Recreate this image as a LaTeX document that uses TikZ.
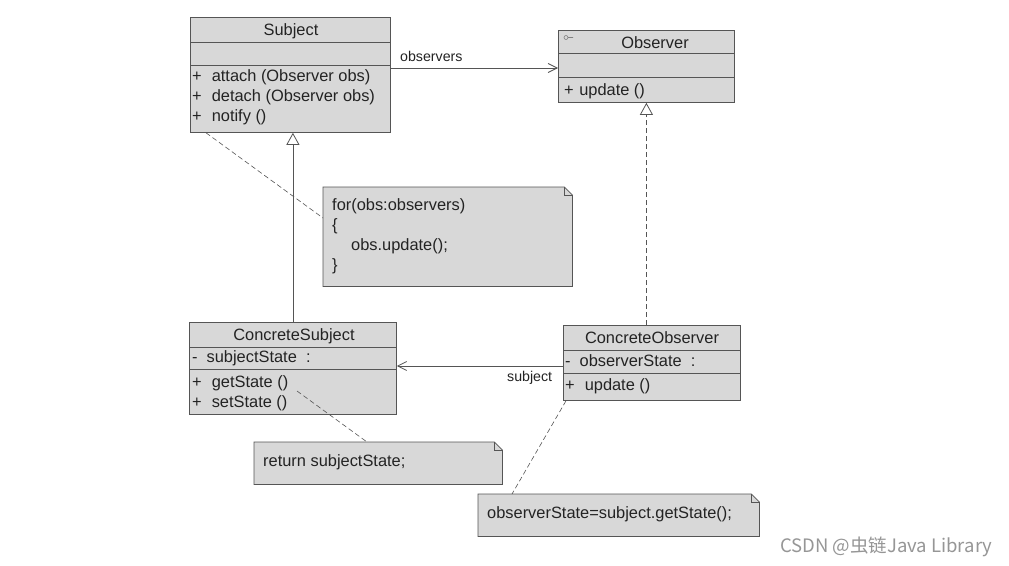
\documentclass[tikz,border=0pt]{standalone}
\usepackage{fontspec}
\setmainfont{Liberation Sans}
\newfontfamily\cjk{Noto Sans CJK SC}
\usetikzlibrary{arrows.meta,calc}
\definecolor{boxc}{RGB}{216,216,216}
\definecolor{linec}{RGB}{85,85,85}
\definecolor{txtc}{RGB}{35,35,35}
\definecolor{wmc}{RGB}{150,150,150}
\begin{document}
\begin{tikzpicture}[x=1pt,y=-1pt,
  cls/.style={draw=linec, fill=boxc, line width=0.8pt, inner sep=0pt, anchor=north west},
  sep/.style={draw=linec, line width=0.8pt},
  txt/.style={anchor=base west, inner sep=0pt, text=txtc, font=\fontsize{16.4}{20}\selectfont},
  lbl/.style={anchor=base west, inner sep=0pt, text=txtc, font=\fontsize{14.2}{17}\selectfont},
  ttl/.style={anchor=base, inner sep=0pt, text=txtc, font=\fontsize{16.4}{20}\selectfont},
  notebox/.style={draw=none, fill=none, inner sep=0pt, anchor=north west},
  noteline/.style={draw=linec, fill=boxc, line width=0.8pt, line join=miter},
  assoc/.style={draw=linec, line width=0.8pt, -{Straight Barb[length=9pt,width=9pt]}},
  gen/.style={draw=linec, line width=0.8pt, -{Triangle[open,length=12pt,width=13pt,fill=white]}},
  real/.style={gen, dash pattern=on 5pt off 3pt},
  attach/.style={draw=linec, line width=0.6pt, dash pattern=on 5pt off 3pt},
]
\fill[white] (0,0) rectangle (1009,565);
\useasboundingbox (0,0) rectangle (1009,565);

% ---------- Subject ----------
\node[cls, minimum width=200pt, minimum height=115pt] (subj) at (190,17) {};
\draw[sep] ($(subj.north west)+(0,25)$) -- ($(subj.north east)+(0,25)$);
\draw[sep] ($(subj.north west)+(0,48)$) -- ($(subj.north east)+(0,48)$);
\node[ttl] (subjT) at (291,35.5) {Subject};
\node[txt] (subjM1) at (192,81) {+\hspace{10pt}attach (Observer obs)};
\node[txt] (subjM2) at (192,101) {+\hspace{10pt}detach (Observer obs)};
\node[txt] (subjM3) at (192,121) {+\hspace{10pt}notify ()};

% ---------- Observer ----------
\node[cls, minimum width=176pt, minimum height=72pt] (obs) at (558,30) {};
\draw[sep] ($(obs.north west)+(0,23.5)$) -- ($(obs.north east)+(0,23.5)$);
\draw[sep] ($(obs.north west)+(0,47)$) -- ($(obs.north east)+(0,47)$);
\draw[gray, line width=0.6pt] (566,37.5) circle (2pt) (568,37.5) -- (573,37.5);
\node[ttl] (obsT) at (655,48) {Observer};
\node[txt] (obsM1) at (564,95) {+\hspace{5.5pt}update ()};

% ---------- ConcreteSubject ----------
\node[cls, minimum width=207pt, minimum height=92pt] (csubj) at (189,322) {};
\draw[sep] ($(csubj.north west)+(0,25)$) -- ($(csubj.north east)+(0,25)$);
\draw[sep] ($(csubj.north west)+(0,47)$) -- ($(csubj.north east)+(0,47)$);
\node[ttl] (csubjT) at (294,340) {ConcreteSubject};
\node[txt] (csubjA1) at (192,362) {-\hspace{9pt}subjectState\ \ :};
\node[txt] (csubjM1) at (192,387) {+\hspace{10pt}getState ()};
\node[txt] (csubjM2) at (192,407) {+\hspace{10pt}setState ()};

% ---------- ConcreteObserver ----------
\node[cls, minimum width=177pt, minimum height=75pt] (cobs) at (563,325) {};
\draw[sep] ($(cobs.north west)+(0,25)$) -- ($(cobs.north east)+(0,25)$);
\draw[sep] ($(cobs.north west)+(0,48)$) -- ($(cobs.north east)+(0,48)$);
\node[ttl] (cobsT) at (652,343) {ConcreteObserver};
\node[txt] (cobsA1) at (565,366) {-\hspace{9pt}observerState\ \ :};
\node[txt] (cobsM1) at (565,390) {+\hspace{10pt}update ()};

% ---------- Notes ----------
\node[notebox, minimum width=249pt, minimum height=99pt] (n1) at (323,187) {};
\filldraw[noteline] (n1.north west) -- ($(n1.north east)+(-8,0)$) -- ($(n1.north east)+(0,8)$) -- (n1.south east) -- (n1.south west) -- cycle;
\draw[noteline, fill=none] ($(n1.north east)+(-8,0)$) -- ($(n1.north east)+(-8,8)$) -- ($(n1.north east)+(0,8)$);
\node[txt] (n1L1) at (332,210) {for(obs:observers)};
\node[txt] (n1L2) at (332,230) {\{};
\node[txt] (n1L3) at (351,250) {obs.update();};
\node[txt] (n1L4) at (332,270) {\}};

\node[notebox, minimum width=248pt, minimum height=42pt] (n2) at (254,442) {};
\filldraw[noteline] (n2.north west) -- ($(n2.north east)+(-8,0)$) -- ($(n2.north east)+(0,8)$) -- (n2.south east) -- (n2.south west) -- cycle;
\draw[noteline, fill=none] ($(n2.north east)+(-8,0)$) -- ($(n2.north east)+(-8,8)$) -- ($(n2.north east)+(0,8)$);
\node[txt] (n2L1) at (263,466) {return subjectState;};

\node[notebox, minimum width=281pt, minimum height=42pt] (n3) at (478,494) {};
\filldraw[noteline] (n3.north west) -- ($(n3.north east)+(-8,0)$) -- ($(n3.north east)+(0,8)$) -- (n3.south east) -- (n3.south west) -- cycle;
\draw[noteline, fill=none] ($(n3.north east)+(-8,0)$) -- ($(n3.north east)+(-8,8)$) -- ($(n3.north east)+(0,8)$);
\node[txt] (n3L1) at (487,518) {observerState=subject.getState();};

% ---------- Connectors ----------
\draw[assoc] ($(subj.north east)+(0,51)$) -- ($(obs.north west)+(0,38)$);
\node[lbl] (lblObs) at (400,61) {observers};

\draw[gen] (csubj.north) -- (csubj.north |- subj.south);
\draw[real] (obs.south |- cobs.north) -- (obs.south);

\draw[assoc] ($(cobs.north west)+(0,41)$) -- ($(csubj.north east)+(0,44)$);
\node[lbl] (lblSubj) at (507,381) {subject};

\draw[attach] ($(subj.south west)+(16,0)$) -- ($(n1.north west)+(0,31)$);
\draw[attach] ($(csubj.north west)+(108,69)$) -- ($(n2.north west)+(113,0)$);
\draw[attach] ($(cobs.south west)+(3,0)$) -- ($(n3.north west)+(34,0)$);

% ---------- Watermark ----------
\node[anchor=base west, inner sep=0pt, text=wmc, font=\cjk\fontsize{18.5}{22}\selectfont] (wm) at (780,552) {CSDN @虫链Java Library};
\end{tikzpicture}
\end{document}
